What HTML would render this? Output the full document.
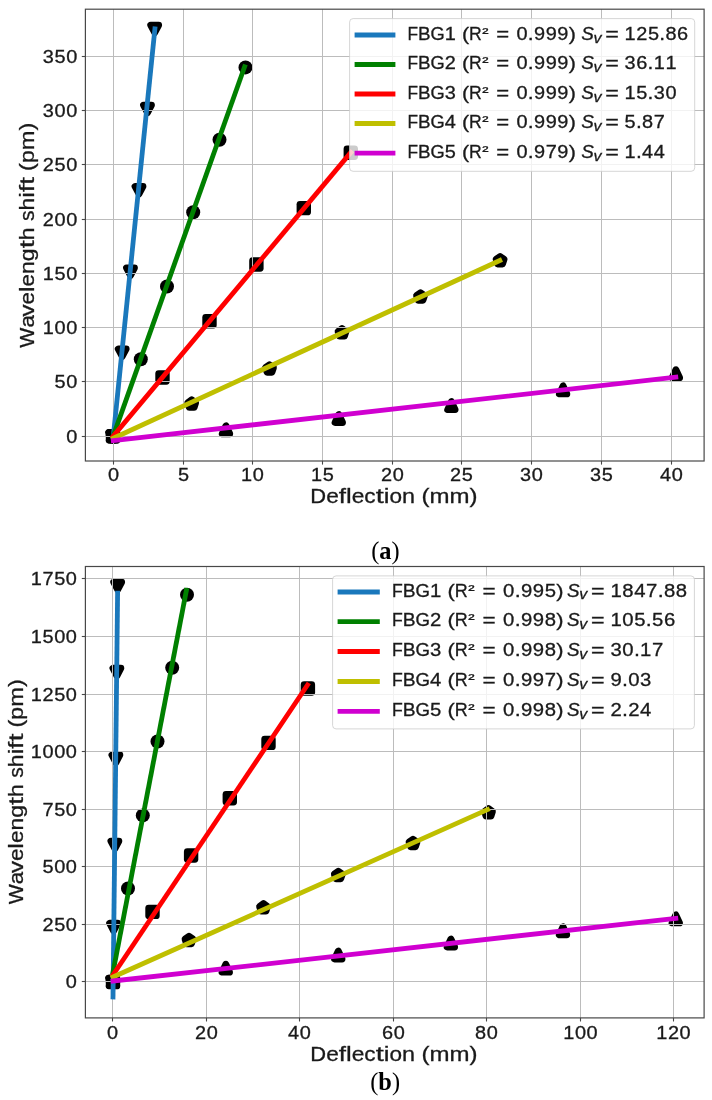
<!DOCTYPE html><html><head><meta charset="utf-8"><title>FBG deflection</title><style>html,body{margin:0;padding:0;background:#fff}svg{display:block;will-change:transform}text{stroke:#1a1a1a;stroke-width:0.3px}.ns text{stroke:none}.rj{stroke:#000;stroke-width:6.8;stroke-linejoin:round}</style></head><body>
<svg width="712" height="1100" viewBox="0 0 712 1100">
<rect width="712" height="1100" fill="#fff"/>
<g fill="#000" stroke="#000" stroke-width="0">
<polygon points="108.60,432.40 116.60,432.40 112.60,440.00" class="rj"/>
<polygon points="118.20,348.90 126.20,348.90 122.20,356.50" class="rj"/>
<polygon points="126.50,267.80 134.50,267.80 130.50,275.40" class="rj"/>
<polygon points="135.00,186.40 143.00,186.40 139.00,194.00" class="rj"/>
<polygon points="143.50,105.10 151.50,105.10 147.50,112.70" class="rj"/>
<polygon points="150.70,25.10 158.70,25.10 154.70,32.70" class="rj"/>
<circle cx="113.00" cy="436.20" r="7.00"/>
<circle cx="140.80" cy="359.20" r="7.00"/>
<circle cx="167.00" cy="286.50" r="7.00"/>
<circle cx="193.20" cy="212.30" r="7.00"/>
<circle cx="219.50" cy="139.70" r="7.00"/>
<circle cx="245.50" cy="67.40" r="7.00"/>
<rect x="105.80" y="429.00" width="14.40" height="14.40" rx="3.4"/>
<rect x="155.30" y="370.30" width="14.40" height="14.40" rx="3.4"/>
<rect x="202.30" y="314.10" width="14.40" height="14.40" rx="3.4"/>
<rect x="249.20" y="257.30" width="14.40" height="14.40" rx="3.4"/>
<rect x="296.60" y="200.90" width="14.40" height="14.40" rx="3.4"/>
<rect x="343.60" y="145.50" width="14.40" height="14.40" rx="3.4"/>
<polygon points="113.00,432.40 116.99,435.30 115.47,440.00 110.53,440.00 109.01,435.30" class="rj"/>
<polygon points="191.70,399.80 195.69,402.70 194.17,407.40 189.23,407.40 187.71,402.70" class="rj"/>
<polygon points="269.50,364.70 273.49,367.60 271.97,372.30 267.03,372.30 265.51,367.60" class="rj"/>
<polygon points="342.00,328.60 345.99,331.50 344.47,336.20 339.53,336.20 338.01,331.50" class="rj"/>
<polygon points="420.50,292.70 424.49,295.60 422.97,300.30 418.03,300.30 416.51,295.60" class="rj"/>
<polygon points="500.10,256.40 504.09,259.30 502.57,264.00 497.63,264.00 496.11,259.30" class="rj"/>
<polygon points="109.25,440.20 116.75,440.20 113.00,432.20" class="rj"/>
<polygon points="222.25,433.80 229.75,433.80 226.00,425.80" class="rj"/>
<polygon points="335.05,422.50 342.55,422.50 338.80,414.50" class="rj"/>
<polygon points="447.65,409.60 455.15,409.60 451.40,401.60" class="rj"/>
<polygon points="559.35,393.90 566.85,393.90 563.10,385.90" class="rj"/>
<polygon points="672.15,377.70 679.65,377.70 675.90,369.70" class="rj"/>
</g>
<g stroke="#bcbcbc" stroke-width="1">
<line x1="113.50" y1="9.2" x2="113.50" y2="461.0"/>
<line x1="183.50" y1="9.2" x2="183.50" y2="461.0"/>
<line x1="252.50" y1="9.2" x2="252.50" y2="461.0"/>
<line x1="322.50" y1="9.2" x2="322.50" y2="461.0"/>
<line x1="392.50" y1="9.2" x2="392.50" y2="461.0"/>
<line x1="461.50" y1="9.2" x2="461.50" y2="461.0"/>
<line x1="531.50" y1="9.2" x2="531.50" y2="461.0"/>
<line x1="601.50" y1="9.2" x2="601.50" y2="461.0"/>
<line x1="671.50" y1="9.2" x2="671.50" y2="461.0"/>
<line x1="85.4" y1="436.50" x2="704.1" y2="436.50"/>
<line x1="85.4" y1="381.50" x2="704.1" y2="381.50"/>
<line x1="85.4" y1="327.50" x2="704.1" y2="327.50"/>
<line x1="85.4" y1="273.50" x2="704.1" y2="273.50"/>
<line x1="85.4" y1="219.50" x2="704.1" y2="219.50"/>
<line x1="85.4" y1="164.50" x2="704.1" y2="164.50"/>
<line x1="85.4" y1="110.50" x2="704.1" y2="110.50"/>
<line x1="85.4" y1="56.50" x2="704.1" y2="56.50"/>
</g>
<g stroke-width="4.8" stroke-linecap="square" fill="none">
<line x1="113.30" y1="436.60" x2="154.90" y2="28.80" stroke="#1a78bc"/>
<line x1="113.30" y1="435.90" x2="244.60" y2="66.80" stroke="#008000"/>
<line x1="113.30" y1="436.10" x2="350.80" y2="152.50" stroke="#ff0000"/>
<line x1="113.30" y1="438.20" x2="499.80" y2="260.50" stroke="#bfbf00"/>
<line x1="113.30" y1="440.60" x2="675.80" y2="377.20" stroke="#d000d0"/>
</g>
<rect x="85.4" y="9.2" width="618.70" height="451.80" fill="none" stroke="#484848" stroke-width="1.2"/>
<g stroke="#484848" stroke-width="1.1">
<line x1="113.50" y1="461.0" x2="113.50" y2="464.60"/>
<line x1="183.50" y1="461.0" x2="183.50" y2="464.60"/>
<line x1="252.50" y1="461.0" x2="252.50" y2="464.60"/>
<line x1="322.50" y1="461.0" x2="322.50" y2="464.60"/>
<line x1="392.50" y1="461.0" x2="392.50" y2="464.60"/>
<line x1="461.50" y1="461.0" x2="461.50" y2="464.60"/>
<line x1="531.50" y1="461.0" x2="531.50" y2="464.60"/>
<line x1="601.50" y1="461.0" x2="601.50" y2="464.60"/>
<line x1="671.50" y1="461.0" x2="671.50" y2="464.60"/>
<line x1="85.4" y1="436.50" x2="81.80" y2="436.50"/>
<line x1="85.4" y1="381.50" x2="81.80" y2="381.50"/>
<line x1="85.4" y1="327.50" x2="81.80" y2="327.50"/>
<line x1="85.4" y1="273.50" x2="81.80" y2="273.50"/>
<line x1="85.4" y1="219.50" x2="81.80" y2="219.50"/>
<line x1="85.4" y1="164.50" x2="81.80" y2="164.50"/>
<line x1="85.4" y1="110.50" x2="81.80" y2="110.50"/>
<line x1="85.4" y1="56.50" x2="81.80" y2="56.50"/>
</g>
<g font-family='"Liberation Sans", sans-serif' fill="#1a1a1a">
<text x="107.96" y="480.60" font-size="17.60" textLength="11.09" lengthAdjust="spacingAndGlyphs" >0</text>
<text x="177.96" y="480.60" font-size="17.60" textLength="11.09" lengthAdjust="spacingAndGlyphs" >5</text>
<text x="241.12" y="480.60" font-size="17.60" textLength="11.09" lengthAdjust="spacingAndGlyphs" >1</text>
<text x="252.79" y="480.60" font-size="17.60" textLength="11.09" lengthAdjust="spacingAndGlyphs" >0</text>
<text x="311.12" y="480.60" font-size="17.60" textLength="11.09" lengthAdjust="spacingAndGlyphs" >1</text>
<text x="322.79" y="480.60" font-size="17.60" textLength="11.09" lengthAdjust="spacingAndGlyphs" >5</text>
<text x="381.12" y="480.60" font-size="17.60" textLength="11.09" lengthAdjust="spacingAndGlyphs" >2</text>
<text x="392.79" y="480.60" font-size="17.60" textLength="11.09" lengthAdjust="spacingAndGlyphs" >0</text>
<text x="450.12" y="480.60" font-size="17.60" textLength="11.09" lengthAdjust="spacingAndGlyphs" >2</text>
<text x="461.79" y="480.60" font-size="17.60" textLength="11.09" lengthAdjust="spacingAndGlyphs" >5</text>
<text x="520.12" y="480.60" font-size="17.60" textLength="11.09" lengthAdjust="spacingAndGlyphs" >3</text>
<text x="531.79" y="480.60" font-size="17.60" textLength="11.09" lengthAdjust="spacingAndGlyphs" >0</text>
<text x="590.12" y="480.60" font-size="17.60" textLength="11.09" lengthAdjust="spacingAndGlyphs" >3</text>
<text x="601.79" y="480.60" font-size="17.60" textLength="11.09" lengthAdjust="spacingAndGlyphs" >5</text>
<text x="660.12" y="480.60" font-size="17.60" textLength="11.09" lengthAdjust="spacingAndGlyphs" >4</text>
<text x="671.79" y="480.60" font-size="17.60" textLength="11.09" lengthAdjust="spacingAndGlyphs" >0</text>
<text x="66.22" y="442.50" font-size="17.60" textLength="11.09" lengthAdjust="spacingAndGlyphs" >0</text>
<text x="54.55" y="387.50" font-size="17.60" textLength="11.09" lengthAdjust="spacingAndGlyphs" >5</text>
<text x="66.22" y="387.50" font-size="17.60" textLength="11.09" lengthAdjust="spacingAndGlyphs" >0</text>
<text x="42.89" y="333.50" font-size="17.60" textLength="11.09" lengthAdjust="spacingAndGlyphs" >1</text>
<text x="54.55" y="333.50" font-size="17.60" textLength="11.09" lengthAdjust="spacingAndGlyphs" >0</text>
<text x="66.22" y="333.50" font-size="17.60" textLength="11.09" lengthAdjust="spacingAndGlyphs" >0</text>
<text x="42.89" y="279.50" font-size="17.60" textLength="11.09" lengthAdjust="spacingAndGlyphs" >1</text>
<text x="54.55" y="279.50" font-size="17.60" textLength="11.09" lengthAdjust="spacingAndGlyphs" >5</text>
<text x="66.22" y="279.50" font-size="17.60" textLength="11.09" lengthAdjust="spacingAndGlyphs" >0</text>
<text x="42.89" y="225.50" font-size="17.60" textLength="11.09" lengthAdjust="spacingAndGlyphs" >2</text>
<text x="54.55" y="225.50" font-size="17.60" textLength="11.09" lengthAdjust="spacingAndGlyphs" >0</text>
<text x="66.22" y="225.50" font-size="17.60" textLength="11.09" lengthAdjust="spacingAndGlyphs" >0</text>
<text x="42.89" y="170.50" font-size="17.60" textLength="11.09" lengthAdjust="spacingAndGlyphs" >2</text>
<text x="54.55" y="170.50" font-size="17.60" textLength="11.09" lengthAdjust="spacingAndGlyphs" >5</text>
<text x="66.22" y="170.50" font-size="17.60" textLength="11.09" lengthAdjust="spacingAndGlyphs" >0</text>
<text x="42.89" y="116.50" font-size="17.60" textLength="11.09" lengthAdjust="spacingAndGlyphs" >3</text>
<text x="54.55" y="116.50" font-size="17.60" textLength="11.09" lengthAdjust="spacingAndGlyphs" >0</text>
<text x="66.22" y="116.50" font-size="17.60" textLength="11.09" lengthAdjust="spacingAndGlyphs" >0</text>
<text x="42.89" y="62.50" font-size="17.60" textLength="11.09" lengthAdjust="spacingAndGlyphs" >3</text>
<text x="54.55" y="62.50" font-size="17.60" textLength="11.09" lengthAdjust="spacingAndGlyphs" >5</text>
<text x="66.22" y="62.50" font-size="17.60" textLength="11.09" lengthAdjust="spacingAndGlyphs" >0</text>
<text x="310.34" y="503.00" font-size="20.80" textLength="15.82" lengthAdjust="spacingAndGlyphs" >D</text>
<text x="326.16" y="503.00" font-size="20.80" textLength="12.64" lengthAdjust="spacingAndGlyphs" >e</text>
<text x="338.81" y="503.00" font-size="20.80" textLength="7.23" lengthAdjust="spacingAndGlyphs" >f</text>
<text x="346.04" y="503.00" font-size="20.80" textLength="5.71" lengthAdjust="spacingAndGlyphs" >l</text>
<text x="351.75" y="503.00" font-size="20.80" textLength="12.64" lengthAdjust="spacingAndGlyphs" >e</text>
<text x="364.39" y="503.00" font-size="20.80" textLength="11.30" lengthAdjust="spacingAndGlyphs" >c</text>
<text x="375.69" y="503.00" font-size="20.80" textLength="8.06" lengthAdjust="spacingAndGlyphs" >t</text>
<text x="383.75" y="503.00" font-size="20.80" textLength="5.71" lengthAdjust="spacingAndGlyphs" >i</text>
<text x="389.46" y="503.00" font-size="20.80" textLength="12.57" lengthAdjust="spacingAndGlyphs" >o</text>
<text x="402.03" y="503.00" font-size="20.80" textLength="13.02" lengthAdjust="spacingAndGlyphs" >n</text>
<text x="421.59" y="503.00" font-size="20.80" textLength="8.02" lengthAdjust="spacingAndGlyphs" >(</text>
<text x="429.61" y="503.00" font-size="20.80" textLength="20.02" lengthAdjust="spacingAndGlyphs" >m</text>
<text x="449.62" y="503.00" font-size="20.80" textLength="20.02" lengthAdjust="spacingAndGlyphs" >m</text>
<text x="469.64" y="503.00" font-size="20.80" textLength="8.02" lengthAdjust="spacingAndGlyphs" >)</text>
<g transform="translate(34.20,235.10) rotate(-90)">
<text x="-112.55" y="0.00" font-size="20.80" textLength="20.02" lengthAdjust="spacingAndGlyphs" >W</text>
<text x="-92.53" y="0.00" font-size="20.80" textLength="12.41" lengthAdjust="spacingAndGlyphs" >a</text>
<text x="-81.42" y="0.00" font-size="20.80" textLength="11.98" lengthAdjust="spacingAndGlyphs" >v</text>
<text x="-69.43" y="0.00" font-size="20.80" textLength="12.46" lengthAdjust="spacingAndGlyphs" >e</text>
<text x="-56.97" y="0.00" font-size="20.80" textLength="5.63" lengthAdjust="spacingAndGlyphs" >l</text>
<text x="-51.35" y="0.00" font-size="20.80" textLength="12.46" lengthAdjust="spacingAndGlyphs" >e</text>
<text x="-38.89" y="0.00" font-size="20.80" textLength="12.83" lengthAdjust="spacingAndGlyphs" >n</text>
<text x="-26.05" y="0.00" font-size="20.80" textLength="12.85" lengthAdjust="spacingAndGlyphs" >g</text>
<text x="-13.20" y="0.00" font-size="20.80" textLength="7.94" lengthAdjust="spacingAndGlyphs" >t</text>
<text x="-5.26" y="0.00" font-size="20.80" textLength="12.83" lengthAdjust="spacingAndGlyphs" >h</text>
<text x="14.01" y="0.00" font-size="20.80" textLength="10.55" lengthAdjust="spacingAndGlyphs" >s</text>
<text x="24.56" y="0.00" font-size="20.80" textLength="12.83" lengthAdjust="spacingAndGlyphs" >h</text>
<text x="37.40" y="0.00" font-size="20.80" textLength="5.63" lengthAdjust="spacingAndGlyphs" >i</text>
<text x="43.02" y="0.00" font-size="20.80" textLength="7.13" lengthAdjust="spacingAndGlyphs" >f</text>
<text x="50.15" y="0.00" font-size="20.80" textLength="7.94" lengthAdjust="spacingAndGlyphs" >t</text>
<text x="64.17" y="0.00" font-size="20.80" textLength="7.90" lengthAdjust="spacingAndGlyphs" >(</text>
<text x="72.07" y="0.00" font-size="20.80" textLength="12.85" lengthAdjust="spacingAndGlyphs" >p</text>
<text x="84.93" y="0.00" font-size="20.80" textLength="19.73" lengthAdjust="spacingAndGlyphs" >m</text>
<text x="104.65" y="0.00" font-size="20.80" textLength="7.90" lengthAdjust="spacingAndGlyphs" >)</text>
</g>
</g>
<rect x="349.6" y="18.6" width="345.10" height="152.70" rx="3.5" fill="#fff" fill-opacity="0.8" stroke="#cccccc" stroke-opacity="0.8" stroke-width="1"/>
<line x1="354.6" y1="35.00" x2="395.4" y2="35.00" stroke="#1a78bc" stroke-width="4.8"/>
<g font-family='"Liberation Sans", sans-serif' fill="#1a1a1a">
<text x="407.40" y="39.60" font-size="17.60" textLength="10.55" lengthAdjust="spacingAndGlyphs" >F</text>
<text x="417.95" y="39.60" font-size="17.60" textLength="12.58" lengthAdjust="spacingAndGlyphs" >B</text>
<text x="430.53" y="39.60" font-size="17.60" textLength="14.21" lengthAdjust="spacingAndGlyphs" >G</text>
<text x="444.71" y="39.60" font-size="17.60" textLength="11.09" lengthAdjust="spacingAndGlyphs" >1</text>
<text x="461.92" y="39.60" font-size="17.60" textLength="7.16" lengthAdjust="spacingAndGlyphs" >(</text>
<text x="469.07" y="39.60" font-size="17.60" textLength="12.74" lengthAdjust="spacingAndGlyphs" >R</text>
<text x="482.37" y="37.70" font-size="14.78" textLength="6.25" lengthAdjust="spacingAndGlyphs" >²</text>
<text x="496.23" y="39.60" font-size="17.60" textLength="12.91" lengthAdjust="spacingAndGlyphs" >=</text>
<text x="516.49" y="39.60" font-size="17.60" textLength="11.09" lengthAdjust="spacingAndGlyphs" >0</text>
<text x="527.86" y="39.60" font-size="17.60" textLength="5.83" lengthAdjust="spacingAndGlyphs" >.</text>
<text x="533.99" y="39.60" font-size="17.60" textLength="11.09" lengthAdjust="spacingAndGlyphs" >9</text>
<text x="545.65" y="39.60" font-size="17.60" textLength="11.09" lengthAdjust="spacingAndGlyphs" >9</text>
<text x="557.32" y="39.60" font-size="17.60" textLength="11.09" lengthAdjust="spacingAndGlyphs" >9</text>
<text x="568.70" y="39.60" font-size="17.60" textLength="7.16" lengthAdjust="spacingAndGlyphs" >)</text>
<text x="581.20" y="39.60" font-size="17.6" textLength="12.60" lengthAdjust="spacingAndGlyphs" font-style="italic">S</text>
<text x="593.40" y="42.50" font-size="14.2" textLength="8.00" lengthAdjust="spacingAndGlyphs" font-style="italic">v</text>
<text x="605.30" y="39.60" font-size="17.6" textLength="13.60" lengthAdjust="spacingAndGlyphs" >=</text>
<text x="624.59" y="39.60" font-size="17.60" textLength="11.09" lengthAdjust="spacingAndGlyphs" >1</text>
<text x="636.26" y="39.60" font-size="17.60" textLength="11.09" lengthAdjust="spacingAndGlyphs" >2</text>
<text x="647.93" y="39.60" font-size="17.60" textLength="11.09" lengthAdjust="spacingAndGlyphs" >5</text>
<text x="659.31" y="39.60" font-size="17.60" textLength="5.83" lengthAdjust="spacingAndGlyphs" >.</text>
<text x="665.43" y="39.60" font-size="17.60" textLength="11.09" lengthAdjust="spacingAndGlyphs" >8</text>
<text x="677.10" y="39.60" font-size="17.60" textLength="11.09" lengthAdjust="spacingAndGlyphs" >6</text>
</g>
<line x1="354.6" y1="64.50" x2="395.4" y2="64.50" stroke="#008000" stroke-width="4.8"/>
<g font-family='"Liberation Sans", sans-serif' fill="#1a1a1a">
<text x="407.40" y="69.10" font-size="17.60" textLength="10.55" lengthAdjust="spacingAndGlyphs" >F</text>
<text x="417.95" y="69.10" font-size="17.60" textLength="12.58" lengthAdjust="spacingAndGlyphs" >B</text>
<text x="430.53" y="69.10" font-size="17.60" textLength="14.21" lengthAdjust="spacingAndGlyphs" >G</text>
<text x="444.71" y="69.10" font-size="17.60" textLength="11.09" lengthAdjust="spacingAndGlyphs" >2</text>
<text x="461.92" y="69.10" font-size="17.60" textLength="7.16" lengthAdjust="spacingAndGlyphs" >(</text>
<text x="469.07" y="69.10" font-size="17.60" textLength="12.74" lengthAdjust="spacingAndGlyphs" >R</text>
<text x="482.37" y="67.20" font-size="14.78" textLength="6.25" lengthAdjust="spacingAndGlyphs" >²</text>
<text x="496.23" y="69.10" font-size="17.60" textLength="12.91" lengthAdjust="spacingAndGlyphs" >=</text>
<text x="516.49" y="69.10" font-size="17.60" textLength="11.09" lengthAdjust="spacingAndGlyphs" >0</text>
<text x="527.86" y="69.10" font-size="17.60" textLength="5.83" lengthAdjust="spacingAndGlyphs" >.</text>
<text x="533.99" y="69.10" font-size="17.60" textLength="11.09" lengthAdjust="spacingAndGlyphs" >9</text>
<text x="545.65" y="69.10" font-size="17.60" textLength="11.09" lengthAdjust="spacingAndGlyphs" >9</text>
<text x="557.32" y="69.10" font-size="17.60" textLength="11.09" lengthAdjust="spacingAndGlyphs" >9</text>
<text x="568.70" y="69.10" font-size="17.60" textLength="7.16" lengthAdjust="spacingAndGlyphs" >)</text>
<text x="581.20" y="69.10" font-size="17.6" textLength="12.60" lengthAdjust="spacingAndGlyphs" font-style="italic">S</text>
<text x="593.40" y="72.00" font-size="14.2" textLength="8.00" lengthAdjust="spacingAndGlyphs" font-style="italic">v</text>
<text x="605.30" y="69.10" font-size="17.6" textLength="13.60" lengthAdjust="spacingAndGlyphs" >=</text>
<text x="624.59" y="69.10" font-size="17.60" textLength="11.09" lengthAdjust="spacingAndGlyphs" >3</text>
<text x="636.26" y="69.10" font-size="17.60" textLength="11.09" lengthAdjust="spacingAndGlyphs" >6</text>
<text x="647.64" y="69.10" font-size="17.60" textLength="5.83" lengthAdjust="spacingAndGlyphs" >.</text>
<text x="653.76" y="69.10" font-size="17.60" textLength="11.09" lengthAdjust="spacingAndGlyphs" >1</text>
<text x="665.43" y="69.10" font-size="17.60" textLength="11.09" lengthAdjust="spacingAndGlyphs" >1</text>
</g>
<line x1="354.6" y1="94.00" x2="395.4" y2="94.00" stroke="#ff0000" stroke-width="4.8"/>
<g font-family='"Liberation Sans", sans-serif' fill="#1a1a1a">
<text x="407.40" y="98.60" font-size="17.60" textLength="10.55" lengthAdjust="spacingAndGlyphs" >F</text>
<text x="417.95" y="98.60" font-size="17.60" textLength="12.58" lengthAdjust="spacingAndGlyphs" >B</text>
<text x="430.53" y="98.60" font-size="17.60" textLength="14.21" lengthAdjust="spacingAndGlyphs" >G</text>
<text x="444.71" y="98.60" font-size="17.60" textLength="11.09" lengthAdjust="spacingAndGlyphs" >3</text>
<text x="461.92" y="98.60" font-size="17.60" textLength="7.16" lengthAdjust="spacingAndGlyphs" >(</text>
<text x="469.07" y="98.60" font-size="17.60" textLength="12.74" lengthAdjust="spacingAndGlyphs" >R</text>
<text x="482.37" y="96.70" font-size="14.78" textLength="6.25" lengthAdjust="spacingAndGlyphs" >²</text>
<text x="496.23" y="98.60" font-size="17.60" textLength="12.91" lengthAdjust="spacingAndGlyphs" >=</text>
<text x="516.49" y="98.60" font-size="17.60" textLength="11.09" lengthAdjust="spacingAndGlyphs" >0</text>
<text x="527.86" y="98.60" font-size="17.60" textLength="5.83" lengthAdjust="spacingAndGlyphs" >.</text>
<text x="533.99" y="98.60" font-size="17.60" textLength="11.09" lengthAdjust="spacingAndGlyphs" >9</text>
<text x="545.65" y="98.60" font-size="17.60" textLength="11.09" lengthAdjust="spacingAndGlyphs" >9</text>
<text x="557.32" y="98.60" font-size="17.60" textLength="11.09" lengthAdjust="spacingAndGlyphs" >9</text>
<text x="568.70" y="98.60" font-size="17.60" textLength="7.16" lengthAdjust="spacingAndGlyphs" >)</text>
<text x="581.20" y="98.60" font-size="17.6" textLength="12.60" lengthAdjust="spacingAndGlyphs" font-style="italic">S</text>
<text x="593.40" y="101.50" font-size="14.2" textLength="8.00" lengthAdjust="spacingAndGlyphs" font-style="italic">v</text>
<text x="605.30" y="98.60" font-size="17.6" textLength="13.60" lengthAdjust="spacingAndGlyphs" >=</text>
<text x="624.59" y="98.60" font-size="17.60" textLength="11.09" lengthAdjust="spacingAndGlyphs" >1</text>
<text x="636.26" y="98.60" font-size="17.60" textLength="11.09" lengthAdjust="spacingAndGlyphs" >5</text>
<text x="647.64" y="98.60" font-size="17.60" textLength="5.83" lengthAdjust="spacingAndGlyphs" >.</text>
<text x="653.76" y="98.60" font-size="17.60" textLength="11.09" lengthAdjust="spacingAndGlyphs" >3</text>
<text x="665.43" y="98.60" font-size="17.60" textLength="11.09" lengthAdjust="spacingAndGlyphs" >0</text>
</g>
<line x1="354.6" y1="123.50" x2="395.4" y2="123.50" stroke="#bfbf00" stroke-width="4.8"/>
<g font-family='"Liberation Sans", sans-serif' fill="#1a1a1a">
<text x="407.40" y="128.10" font-size="17.60" textLength="10.55" lengthAdjust="spacingAndGlyphs" >F</text>
<text x="417.95" y="128.10" font-size="17.60" textLength="12.58" lengthAdjust="spacingAndGlyphs" >B</text>
<text x="430.53" y="128.10" font-size="17.60" textLength="14.21" lengthAdjust="spacingAndGlyphs" >G</text>
<text x="444.71" y="128.10" font-size="17.60" textLength="11.09" lengthAdjust="spacingAndGlyphs" >4</text>
<text x="461.92" y="128.10" font-size="17.60" textLength="7.16" lengthAdjust="spacingAndGlyphs" >(</text>
<text x="469.07" y="128.10" font-size="17.60" textLength="12.74" lengthAdjust="spacingAndGlyphs" >R</text>
<text x="482.37" y="126.20" font-size="14.78" textLength="6.25" lengthAdjust="spacingAndGlyphs" >²</text>
<text x="496.23" y="128.10" font-size="17.60" textLength="12.91" lengthAdjust="spacingAndGlyphs" >=</text>
<text x="516.49" y="128.10" font-size="17.60" textLength="11.09" lengthAdjust="spacingAndGlyphs" >0</text>
<text x="527.86" y="128.10" font-size="17.60" textLength="5.83" lengthAdjust="spacingAndGlyphs" >.</text>
<text x="533.99" y="128.10" font-size="17.60" textLength="11.09" lengthAdjust="spacingAndGlyphs" >9</text>
<text x="545.65" y="128.10" font-size="17.60" textLength="11.09" lengthAdjust="spacingAndGlyphs" >9</text>
<text x="557.32" y="128.10" font-size="17.60" textLength="11.09" lengthAdjust="spacingAndGlyphs" >9</text>
<text x="568.70" y="128.10" font-size="17.60" textLength="7.16" lengthAdjust="spacingAndGlyphs" >)</text>
<text x="581.20" y="128.10" font-size="17.6" textLength="12.60" lengthAdjust="spacingAndGlyphs" font-style="italic">S</text>
<text x="593.40" y="131.00" font-size="14.2" textLength="8.00" lengthAdjust="spacingAndGlyphs" font-style="italic">v</text>
<text x="605.30" y="128.10" font-size="17.6" textLength="13.60" lengthAdjust="spacingAndGlyphs" >=</text>
<text x="624.59" y="128.10" font-size="17.60" textLength="11.09" lengthAdjust="spacingAndGlyphs" >5</text>
<text x="635.97" y="128.10" font-size="17.60" textLength="5.83" lengthAdjust="spacingAndGlyphs" >.</text>
<text x="642.09" y="128.10" font-size="17.60" textLength="11.09" lengthAdjust="spacingAndGlyphs" >8</text>
<text x="653.76" y="128.10" font-size="17.60" textLength="11.09" lengthAdjust="spacingAndGlyphs" >7</text>
</g>
<line x1="354.6" y1="153.10" x2="395.4" y2="153.10" stroke="#d000d0" stroke-width="4.8"/>
<g font-family='"Liberation Sans", sans-serif' fill="#1a1a1a">
<text x="407.40" y="157.70" font-size="17.60" textLength="10.55" lengthAdjust="spacingAndGlyphs" >F</text>
<text x="417.95" y="157.70" font-size="17.60" textLength="12.58" lengthAdjust="spacingAndGlyphs" >B</text>
<text x="430.53" y="157.70" font-size="17.60" textLength="14.21" lengthAdjust="spacingAndGlyphs" >G</text>
<text x="444.71" y="157.70" font-size="17.60" textLength="11.09" lengthAdjust="spacingAndGlyphs" >5</text>
<text x="461.92" y="157.70" font-size="17.60" textLength="7.16" lengthAdjust="spacingAndGlyphs" >(</text>
<text x="469.07" y="157.70" font-size="17.60" textLength="12.74" lengthAdjust="spacingAndGlyphs" >R</text>
<text x="482.37" y="155.80" font-size="14.78" textLength="6.25" lengthAdjust="spacingAndGlyphs" >²</text>
<text x="496.23" y="157.70" font-size="17.60" textLength="12.91" lengthAdjust="spacingAndGlyphs" >=</text>
<text x="516.49" y="157.70" font-size="17.60" textLength="11.09" lengthAdjust="spacingAndGlyphs" >0</text>
<text x="527.86" y="157.70" font-size="17.60" textLength="5.83" lengthAdjust="spacingAndGlyphs" >.</text>
<text x="533.99" y="157.70" font-size="17.60" textLength="11.09" lengthAdjust="spacingAndGlyphs" >9</text>
<text x="545.65" y="157.70" font-size="17.60" textLength="11.09" lengthAdjust="spacingAndGlyphs" >7</text>
<text x="557.32" y="157.70" font-size="17.60" textLength="11.09" lengthAdjust="spacingAndGlyphs" >9</text>
<text x="568.70" y="157.70" font-size="17.60" textLength="7.16" lengthAdjust="spacingAndGlyphs" >)</text>
<text x="581.20" y="157.70" font-size="17.6" textLength="12.60" lengthAdjust="spacingAndGlyphs" font-style="italic">S</text>
<text x="593.40" y="160.60" font-size="14.2" textLength="8.00" lengthAdjust="spacingAndGlyphs" font-style="italic">v</text>
<text x="605.30" y="157.70" font-size="17.6" textLength="13.60" lengthAdjust="spacingAndGlyphs" >=</text>
<text x="624.59" y="157.70" font-size="17.60" textLength="11.09" lengthAdjust="spacingAndGlyphs" >1</text>
<text x="635.97" y="157.70" font-size="17.60" textLength="5.83" lengthAdjust="spacingAndGlyphs" >.</text>
<text x="642.09" y="157.70" font-size="17.60" textLength="11.09" lengthAdjust="spacingAndGlyphs" >4</text>
<text x="653.76" y="157.70" font-size="17.60" textLength="11.09" lengthAdjust="spacingAndGlyphs" >4</text>
</g>
<g fill="#000" stroke="#000" stroke-width="0">
<polygon points="108.60,978.10 116.60,978.10 112.60,985.70" class="rj"/>
<polygon points="109.60,923.20 117.60,923.20 113.60,930.80" class="rj"/>
<polygon points="110.90,841.10 118.90,841.10 114.90,848.70" class="rj"/>
<polygon points="111.90,755.00 119.90,755.00 115.90,762.60" class="rj"/>
<polygon points="112.90,668.20 120.90,668.20 116.90,675.80" class="rj"/>
<polygon points="113.70,582.10 121.70,582.10 117.70,589.70" class="rj"/>
<circle cx="113.00" cy="981.90" r="7.00"/>
<circle cx="128.00" cy="888.50" r="7.00"/>
<circle cx="142.80" cy="815.40" r="7.00"/>
<circle cx="157.50" cy="741.50" r="7.00"/>
<circle cx="172.20" cy="667.80" r="7.00"/>
<circle cx="187.00" cy="594.70" r="7.00"/>
<rect x="105.80" y="974.70" width="14.40" height="14.40" rx="3.4"/>
<rect x="145.30" y="904.70" width="14.40" height="14.40" rx="3.4"/>
<rect x="183.90" y="848.30" width="14.40" height="14.40" rx="3.4"/>
<rect x="222.60" y="791.00" width="14.40" height="14.40" rx="3.4"/>
<rect x="261.30" y="735.70" width="14.40" height="14.40" rx="3.4"/>
<rect x="300.70" y="681.30" width="14.40" height="14.40" rx="3.4"/>
<polygon points="113.00,978.10 116.99,981.00 115.47,985.70 110.53,985.70 109.01,981.00" class="rj"/>
<polygon points="189.00,936.20 192.99,939.10 191.47,943.80 186.53,943.80 185.01,939.10" class="rj"/>
<polygon points="263.50,903.60 267.49,906.50 265.97,911.20 261.03,911.20 259.51,906.50" class="rj"/>
<polygon points="338.30,871.20 342.29,874.10 340.77,878.80 335.83,878.80 334.31,874.10" class="rj"/>
<polygon points="413.00,839.20 416.99,842.10 415.47,846.80 410.53,846.80 409.01,842.10" class="rj"/>
<polygon points="488.50,808.50 492.49,811.40 490.97,816.10 486.03,816.10 484.51,811.40" class="rj"/>
<polygon points="109.25,985.90 116.75,985.90 113.00,977.90" class="rj"/>
<polygon points="222.05,972.20 229.55,972.20 225.80,964.20" class="rj"/>
<polygon points="334.55,959.00 342.05,959.00 338.30,951.00" class="rj"/>
<polygon points="447.15,947.00 454.65,947.00 450.90,939.00" class="rj"/>
<polygon points="559.25,934.80 566.75,934.80 563.00,926.80" class="rj"/>
<polygon points="672.05,922.90 679.55,922.90 675.80,914.90" class="rj"/>
</g>
<g stroke="#bcbcbc" stroke-width="1">
<line x1="112.50" y1="566.5" x2="112.50" y2="1017.9"/>
<line x1="206.50" y1="566.5" x2="206.50" y2="1017.9"/>
<line x1="299.50" y1="566.5" x2="299.50" y2="1017.9"/>
<line x1="393.50" y1="566.5" x2="393.50" y2="1017.9"/>
<line x1="486.50" y1="566.5" x2="486.50" y2="1017.9"/>
<line x1="580.50" y1="566.5" x2="580.50" y2="1017.9"/>
<line x1="673.50" y1="566.5" x2="673.50" y2="1017.9"/>
<line x1="85.4" y1="981.50" x2="704.1" y2="981.50"/>
<line x1="85.4" y1="924.50" x2="704.1" y2="924.50"/>
<line x1="85.4" y1="866.50" x2="704.1" y2="866.50"/>
<line x1="85.4" y1="809.50" x2="704.1" y2="809.50"/>
<line x1="85.4" y1="751.50" x2="704.1" y2="751.50"/>
<line x1="85.4" y1="694.50" x2="704.1" y2="694.50"/>
<line x1="85.4" y1="636.50" x2="704.1" y2="636.50"/>
<line x1="85.4" y1="578.50" x2="704.1" y2="578.50"/>
</g>
<g stroke-width="4.8" stroke-linecap="square" fill="none">
<line x1="113.00" y1="997.00" x2="117.60" y2="593.10" stroke="#1a78bc"/>
<line x1="113.00" y1="972.20" x2="186.40" y2="590.40" stroke="#008000"/>
<line x1="113.00" y1="975.00" x2="307.50" y2="685.00" stroke="#ff0000"/>
<line x1="113.00" y1="977.00" x2="487.50" y2="809.60" stroke="#bfbf00"/>
<line x1="113.00" y1="981.00" x2="675.80" y2="918.30" stroke="#d000d0"/>
</g>
<rect x="85.4" y="566.5" width="618.70" height="451.40" fill="none" stroke="#484848" stroke-width="1.2"/>
<g stroke="#484848" stroke-width="1.1">
<line x1="112.50" y1="1017.9" x2="112.50" y2="1021.50"/>
<line x1="206.50" y1="1017.9" x2="206.50" y2="1021.50"/>
<line x1="299.50" y1="1017.9" x2="299.50" y2="1021.50"/>
<line x1="393.50" y1="1017.9" x2="393.50" y2="1021.50"/>
<line x1="486.50" y1="1017.9" x2="486.50" y2="1021.50"/>
<line x1="580.50" y1="1017.9" x2="580.50" y2="1021.50"/>
<line x1="673.50" y1="1017.9" x2="673.50" y2="1021.50"/>
<line x1="85.4" y1="981.50" x2="81.80" y2="981.50"/>
<line x1="85.4" y1="924.50" x2="81.80" y2="924.50"/>
<line x1="85.4" y1="866.50" x2="81.80" y2="866.50"/>
<line x1="85.4" y1="809.50" x2="81.80" y2="809.50"/>
<line x1="85.4" y1="751.50" x2="81.80" y2="751.50"/>
<line x1="85.4" y1="694.50" x2="81.80" y2="694.50"/>
<line x1="85.4" y1="636.50" x2="81.80" y2="636.50"/>
<line x1="85.4" y1="578.50" x2="81.80" y2="578.50"/>
</g>
<g font-family='"Liberation Sans", sans-serif' fill="#1a1a1a">
<text x="106.96" y="1038.50" font-size="17.60" textLength="11.09" lengthAdjust="spacingAndGlyphs" >0</text>
<text x="195.12" y="1038.50" font-size="17.60" textLength="11.09" lengthAdjust="spacingAndGlyphs" >2</text>
<text x="206.79" y="1038.50" font-size="17.60" textLength="11.09" lengthAdjust="spacingAndGlyphs" >0</text>
<text x="288.12" y="1038.50" font-size="17.60" textLength="11.09" lengthAdjust="spacingAndGlyphs" >4</text>
<text x="299.79" y="1038.50" font-size="17.60" textLength="11.09" lengthAdjust="spacingAndGlyphs" >0</text>
<text x="382.12" y="1038.50" font-size="17.60" textLength="11.09" lengthAdjust="spacingAndGlyphs" >6</text>
<text x="393.79" y="1038.50" font-size="17.60" textLength="11.09" lengthAdjust="spacingAndGlyphs" >0</text>
<text x="475.12" y="1038.50" font-size="17.60" textLength="11.09" lengthAdjust="spacingAndGlyphs" >8</text>
<text x="486.79" y="1038.50" font-size="17.60" textLength="11.09" lengthAdjust="spacingAndGlyphs" >0</text>
<text x="563.29" y="1038.50" font-size="17.60" textLength="11.09" lengthAdjust="spacingAndGlyphs" >1</text>
<text x="574.96" y="1038.50" font-size="17.60" textLength="11.09" lengthAdjust="spacingAndGlyphs" >0</text>
<text x="586.63" y="1038.50" font-size="17.60" textLength="11.09" lengthAdjust="spacingAndGlyphs" >0</text>
<text x="656.29" y="1038.50" font-size="17.60" textLength="11.09" lengthAdjust="spacingAndGlyphs" >1</text>
<text x="667.96" y="1038.50" font-size="17.60" textLength="11.09" lengthAdjust="spacingAndGlyphs" >2</text>
<text x="679.63" y="1038.50" font-size="17.60" textLength="11.09" lengthAdjust="spacingAndGlyphs" >0</text>
<text x="65.82" y="987.50" font-size="17.60" textLength="11.09" lengthAdjust="spacingAndGlyphs" >0</text>
<text x="42.49" y="930.50" font-size="17.60" textLength="11.09" lengthAdjust="spacingAndGlyphs" >2</text>
<text x="54.15" y="930.50" font-size="17.60" textLength="11.09" lengthAdjust="spacingAndGlyphs" >5</text>
<text x="65.82" y="930.50" font-size="17.60" textLength="11.09" lengthAdjust="spacingAndGlyphs" >0</text>
<text x="42.49" y="872.50" font-size="17.60" textLength="11.09" lengthAdjust="spacingAndGlyphs" >5</text>
<text x="54.15" y="872.50" font-size="17.60" textLength="11.09" lengthAdjust="spacingAndGlyphs" >0</text>
<text x="65.82" y="872.50" font-size="17.60" textLength="11.09" lengthAdjust="spacingAndGlyphs" >0</text>
<text x="42.49" y="815.50" font-size="17.60" textLength="11.09" lengthAdjust="spacingAndGlyphs" >7</text>
<text x="54.15" y="815.50" font-size="17.60" textLength="11.09" lengthAdjust="spacingAndGlyphs" >5</text>
<text x="65.82" y="815.50" font-size="17.60" textLength="11.09" lengthAdjust="spacingAndGlyphs" >0</text>
<text x="30.82" y="757.50" font-size="17.60" textLength="11.09" lengthAdjust="spacingAndGlyphs" >1</text>
<text x="42.49" y="757.50" font-size="17.60" textLength="11.09" lengthAdjust="spacingAndGlyphs" >0</text>
<text x="54.15" y="757.50" font-size="17.60" textLength="11.09" lengthAdjust="spacingAndGlyphs" >0</text>
<text x="65.82" y="757.50" font-size="17.60" textLength="11.09" lengthAdjust="spacingAndGlyphs" >0</text>
<text x="30.82" y="700.50" font-size="17.60" textLength="11.09" lengthAdjust="spacingAndGlyphs" >1</text>
<text x="42.49" y="700.50" font-size="17.60" textLength="11.09" lengthAdjust="spacingAndGlyphs" >2</text>
<text x="54.15" y="700.50" font-size="17.60" textLength="11.09" lengthAdjust="spacingAndGlyphs" >5</text>
<text x="65.82" y="700.50" font-size="17.60" textLength="11.09" lengthAdjust="spacingAndGlyphs" >0</text>
<text x="30.82" y="642.50" font-size="17.60" textLength="11.09" lengthAdjust="spacingAndGlyphs" >1</text>
<text x="42.49" y="642.50" font-size="17.60" textLength="11.09" lengthAdjust="spacingAndGlyphs" >5</text>
<text x="54.15" y="642.50" font-size="17.60" textLength="11.09" lengthAdjust="spacingAndGlyphs" >0</text>
<text x="65.82" y="642.50" font-size="17.60" textLength="11.09" lengthAdjust="spacingAndGlyphs" >0</text>
<text x="30.82" y="584.50" font-size="17.60" textLength="11.09" lengthAdjust="spacingAndGlyphs" >1</text>
<text x="42.49" y="584.50" font-size="17.60" textLength="11.09" lengthAdjust="spacingAndGlyphs" >7</text>
<text x="54.15" y="584.50" font-size="17.60" textLength="11.09" lengthAdjust="spacingAndGlyphs" >5</text>
<text x="65.82" y="584.50" font-size="17.60" textLength="11.09" lengthAdjust="spacingAndGlyphs" >0</text>
<text x="310.34" y="1060.50" font-size="20.80" textLength="15.82" lengthAdjust="spacingAndGlyphs" >D</text>
<text x="326.16" y="1060.50" font-size="20.80" textLength="12.64" lengthAdjust="spacingAndGlyphs" >e</text>
<text x="338.81" y="1060.50" font-size="20.80" textLength="7.23" lengthAdjust="spacingAndGlyphs" >f</text>
<text x="346.04" y="1060.50" font-size="20.80" textLength="5.71" lengthAdjust="spacingAndGlyphs" >l</text>
<text x="351.75" y="1060.50" font-size="20.80" textLength="12.64" lengthAdjust="spacingAndGlyphs" >e</text>
<text x="364.39" y="1060.50" font-size="20.80" textLength="11.30" lengthAdjust="spacingAndGlyphs" >c</text>
<text x="375.69" y="1060.50" font-size="20.80" textLength="8.06" lengthAdjust="spacingAndGlyphs" >t</text>
<text x="383.75" y="1060.50" font-size="20.80" textLength="5.71" lengthAdjust="spacingAndGlyphs" >i</text>
<text x="389.46" y="1060.50" font-size="20.80" textLength="12.57" lengthAdjust="spacingAndGlyphs" >o</text>
<text x="402.03" y="1060.50" font-size="20.80" textLength="13.02" lengthAdjust="spacingAndGlyphs" >n</text>
<text x="421.59" y="1060.50" font-size="20.80" textLength="8.02" lengthAdjust="spacingAndGlyphs" >(</text>
<text x="429.61" y="1060.50" font-size="20.80" textLength="20.02" lengthAdjust="spacingAndGlyphs" >m</text>
<text x="449.62" y="1060.50" font-size="20.80" textLength="20.02" lengthAdjust="spacingAndGlyphs" >m</text>
<text x="469.64" y="1060.50" font-size="20.80" textLength="8.02" lengthAdjust="spacingAndGlyphs" >)</text>
<g transform="translate(22.60,791.70) rotate(-90)">
<text x="-112.55" y="0.00" font-size="20.80" textLength="20.02" lengthAdjust="spacingAndGlyphs" >W</text>
<text x="-92.53" y="0.00" font-size="20.80" textLength="12.41" lengthAdjust="spacingAndGlyphs" >a</text>
<text x="-81.42" y="0.00" font-size="20.80" textLength="11.98" lengthAdjust="spacingAndGlyphs" >v</text>
<text x="-69.43" y="0.00" font-size="20.80" textLength="12.46" lengthAdjust="spacingAndGlyphs" >e</text>
<text x="-56.97" y="0.00" font-size="20.80" textLength="5.63" lengthAdjust="spacingAndGlyphs" >l</text>
<text x="-51.35" y="0.00" font-size="20.80" textLength="12.46" lengthAdjust="spacingAndGlyphs" >e</text>
<text x="-38.89" y="0.00" font-size="20.80" textLength="12.83" lengthAdjust="spacingAndGlyphs" >n</text>
<text x="-26.05" y="0.00" font-size="20.80" textLength="12.85" lengthAdjust="spacingAndGlyphs" >g</text>
<text x="-13.20" y="0.00" font-size="20.80" textLength="7.94" lengthAdjust="spacingAndGlyphs" >t</text>
<text x="-5.26" y="0.00" font-size="20.80" textLength="12.83" lengthAdjust="spacingAndGlyphs" >h</text>
<text x="14.01" y="0.00" font-size="20.80" textLength="10.55" lengthAdjust="spacingAndGlyphs" >s</text>
<text x="24.56" y="0.00" font-size="20.80" textLength="12.83" lengthAdjust="spacingAndGlyphs" >h</text>
<text x="37.40" y="0.00" font-size="20.80" textLength="5.63" lengthAdjust="spacingAndGlyphs" >i</text>
<text x="43.02" y="0.00" font-size="20.80" textLength="7.13" lengthAdjust="spacingAndGlyphs" >f</text>
<text x="50.15" y="0.00" font-size="20.80" textLength="7.94" lengthAdjust="spacingAndGlyphs" >t</text>
<text x="64.17" y="0.00" font-size="20.80" textLength="7.90" lengthAdjust="spacingAndGlyphs" >(</text>
<text x="72.07" y="0.00" font-size="20.80" textLength="12.85" lengthAdjust="spacingAndGlyphs" >p</text>
<text x="84.93" y="0.00" font-size="20.80" textLength="19.73" lengthAdjust="spacingAndGlyphs" >m</text>
<text x="104.65" y="0.00" font-size="20.80" textLength="7.90" lengthAdjust="spacingAndGlyphs" >)</text>
</g>
</g>
<rect x="332.6" y="575.9" width="361.80" height="153.00" rx="3.5" fill="#fff" fill-opacity="0.8" stroke="#cccccc" stroke-opacity="0.8" stroke-width="1"/>
<line x1="337.6" y1="592.00" x2="379.8" y2="592.00" stroke="#1a78bc" stroke-width="4.8"/>
<g font-family='"Liberation Sans", sans-serif' fill="#1a1a1a">
<text x="391.90" y="596.50" font-size="17.60" textLength="10.76" lengthAdjust="spacingAndGlyphs" >F</text>
<text x="402.66" y="596.50" font-size="17.60" textLength="12.83" lengthAdjust="spacingAndGlyphs" >B</text>
<text x="415.49" y="596.50" font-size="17.60" textLength="14.49" lengthAdjust="spacingAndGlyphs" >G</text>
<text x="429.94" y="596.50" font-size="17.60" textLength="11.30" lengthAdjust="spacingAndGlyphs" >1</text>
<text x="447.49" y="596.50" font-size="17.60" textLength="7.30" lengthAdjust="spacingAndGlyphs" >(</text>
<text x="454.78" y="596.50" font-size="17.60" textLength="12.99" lengthAdjust="spacingAndGlyphs" >R</text>
<text x="468.34" y="594.60" font-size="14.78" textLength="6.37" lengthAdjust="spacingAndGlyphs" >²</text>
<text x="482.47" y="596.50" font-size="17.60" textLength="13.16" lengthAdjust="spacingAndGlyphs" >=</text>
<text x="503.13" y="596.50" font-size="17.60" textLength="11.30" lengthAdjust="spacingAndGlyphs" >0</text>
<text x="514.73" y="596.50" font-size="17.60" textLength="5.94" lengthAdjust="spacingAndGlyphs" >.</text>
<text x="520.97" y="596.50" font-size="17.60" textLength="11.30" lengthAdjust="spacingAndGlyphs" >9</text>
<text x="532.87" y="596.50" font-size="17.60" textLength="11.30" lengthAdjust="spacingAndGlyphs" >9</text>
<text x="544.77" y="596.50" font-size="17.60" textLength="11.30" lengthAdjust="spacingAndGlyphs" >5</text>
<text x="556.37" y="596.50" font-size="17.60" textLength="7.30" lengthAdjust="spacingAndGlyphs" >)</text>
<text x="567.00" y="596.50" font-size="17.6" textLength="12.60" lengthAdjust="spacingAndGlyphs" font-style="italic">S</text>
<text x="579.20" y="599.40" font-size="14.2" textLength="8.00" lengthAdjust="spacingAndGlyphs" font-style="italic">v</text>
<text x="591.10" y="596.50" font-size="17.6" textLength="13.60" lengthAdjust="spacingAndGlyphs" >=</text>
<text x="610.40" y="596.50" font-size="17.60" textLength="11.30" lengthAdjust="spacingAndGlyphs" >1</text>
<text x="622.30" y="596.50" font-size="17.60" textLength="11.30" lengthAdjust="spacingAndGlyphs" >8</text>
<text x="634.19" y="596.50" font-size="17.60" textLength="11.30" lengthAdjust="spacingAndGlyphs" >4</text>
<text x="646.09" y="596.50" font-size="17.60" textLength="11.30" lengthAdjust="spacingAndGlyphs" >7</text>
<text x="657.69" y="596.50" font-size="17.60" textLength="5.94" lengthAdjust="spacingAndGlyphs" >.</text>
<text x="663.93" y="596.50" font-size="17.60" textLength="11.30" lengthAdjust="spacingAndGlyphs" >8</text>
<text x="675.83" y="596.50" font-size="17.60" textLength="11.30" lengthAdjust="spacingAndGlyphs" >8</text>
</g>
<line x1="337.6" y1="621.60" x2="379.8" y2="621.60" stroke="#008000" stroke-width="4.8"/>
<g font-family='"Liberation Sans", sans-serif' fill="#1a1a1a">
<text x="391.90" y="626.10" font-size="17.60" textLength="10.76" lengthAdjust="spacingAndGlyphs" >F</text>
<text x="402.66" y="626.10" font-size="17.60" textLength="12.83" lengthAdjust="spacingAndGlyphs" >B</text>
<text x="415.49" y="626.10" font-size="17.60" textLength="14.49" lengthAdjust="spacingAndGlyphs" >G</text>
<text x="429.94" y="626.10" font-size="17.60" textLength="11.30" lengthAdjust="spacingAndGlyphs" >2</text>
<text x="447.49" y="626.10" font-size="17.60" textLength="7.30" lengthAdjust="spacingAndGlyphs" >(</text>
<text x="454.78" y="626.10" font-size="17.60" textLength="12.99" lengthAdjust="spacingAndGlyphs" >R</text>
<text x="468.34" y="624.20" font-size="14.78" textLength="6.37" lengthAdjust="spacingAndGlyphs" >²</text>
<text x="482.47" y="626.10" font-size="17.60" textLength="13.16" lengthAdjust="spacingAndGlyphs" >=</text>
<text x="503.13" y="626.10" font-size="17.60" textLength="11.30" lengthAdjust="spacingAndGlyphs" >0</text>
<text x="514.73" y="626.10" font-size="17.60" textLength="5.94" lengthAdjust="spacingAndGlyphs" >.</text>
<text x="520.97" y="626.10" font-size="17.60" textLength="11.30" lengthAdjust="spacingAndGlyphs" >9</text>
<text x="532.87" y="626.10" font-size="17.60" textLength="11.30" lengthAdjust="spacingAndGlyphs" >9</text>
<text x="544.77" y="626.10" font-size="17.60" textLength="11.30" lengthAdjust="spacingAndGlyphs" >8</text>
<text x="556.37" y="626.10" font-size="17.60" textLength="7.30" lengthAdjust="spacingAndGlyphs" >)</text>
<text x="567.00" y="626.10" font-size="17.6" textLength="12.60" lengthAdjust="spacingAndGlyphs" font-style="italic">S</text>
<text x="579.20" y="629.00" font-size="14.2" textLength="8.00" lengthAdjust="spacingAndGlyphs" font-style="italic">v</text>
<text x="591.10" y="626.10" font-size="17.6" textLength="13.60" lengthAdjust="spacingAndGlyphs" >=</text>
<text x="610.40" y="626.10" font-size="17.60" textLength="11.30" lengthAdjust="spacingAndGlyphs" >1</text>
<text x="622.30" y="626.10" font-size="17.60" textLength="11.30" lengthAdjust="spacingAndGlyphs" >0</text>
<text x="634.19" y="626.10" font-size="17.60" textLength="11.30" lengthAdjust="spacingAndGlyphs" >5</text>
<text x="645.79" y="626.10" font-size="17.60" textLength="5.94" lengthAdjust="spacingAndGlyphs" >.</text>
<text x="652.03" y="626.10" font-size="17.60" textLength="11.30" lengthAdjust="spacingAndGlyphs" >5</text>
<text x="663.93" y="626.10" font-size="17.60" textLength="11.30" lengthAdjust="spacingAndGlyphs" >6</text>
</g>
<line x1="337.6" y1="651.50" x2="379.8" y2="651.50" stroke="#ff0000" stroke-width="4.8"/>
<g font-family='"Liberation Sans", sans-serif' fill="#1a1a1a">
<text x="391.90" y="656.00" font-size="17.60" textLength="10.76" lengthAdjust="spacingAndGlyphs" >F</text>
<text x="402.66" y="656.00" font-size="17.60" textLength="12.83" lengthAdjust="spacingAndGlyphs" >B</text>
<text x="415.49" y="656.00" font-size="17.60" textLength="14.49" lengthAdjust="spacingAndGlyphs" >G</text>
<text x="429.94" y="656.00" font-size="17.60" textLength="11.30" lengthAdjust="spacingAndGlyphs" >3</text>
<text x="447.49" y="656.00" font-size="17.60" textLength="7.30" lengthAdjust="spacingAndGlyphs" >(</text>
<text x="454.78" y="656.00" font-size="17.60" textLength="12.99" lengthAdjust="spacingAndGlyphs" >R</text>
<text x="468.34" y="654.10" font-size="14.78" textLength="6.37" lengthAdjust="spacingAndGlyphs" >²</text>
<text x="482.47" y="656.00" font-size="17.60" textLength="13.16" lengthAdjust="spacingAndGlyphs" >=</text>
<text x="503.13" y="656.00" font-size="17.60" textLength="11.30" lengthAdjust="spacingAndGlyphs" >0</text>
<text x="514.73" y="656.00" font-size="17.60" textLength="5.94" lengthAdjust="spacingAndGlyphs" >.</text>
<text x="520.97" y="656.00" font-size="17.60" textLength="11.30" lengthAdjust="spacingAndGlyphs" >9</text>
<text x="532.87" y="656.00" font-size="17.60" textLength="11.30" lengthAdjust="spacingAndGlyphs" >9</text>
<text x="544.77" y="656.00" font-size="17.60" textLength="11.30" lengthAdjust="spacingAndGlyphs" >8</text>
<text x="556.37" y="656.00" font-size="17.60" textLength="7.30" lengthAdjust="spacingAndGlyphs" >)</text>
<text x="567.00" y="656.00" font-size="17.6" textLength="12.60" lengthAdjust="spacingAndGlyphs" font-style="italic">S</text>
<text x="579.20" y="658.90" font-size="14.2" textLength="8.00" lengthAdjust="spacingAndGlyphs" font-style="italic">v</text>
<text x="591.10" y="656.00" font-size="17.6" textLength="13.60" lengthAdjust="spacingAndGlyphs" >=</text>
<text x="610.40" y="656.00" font-size="17.60" textLength="11.30" lengthAdjust="spacingAndGlyphs" >3</text>
<text x="622.30" y="656.00" font-size="17.60" textLength="11.30" lengthAdjust="spacingAndGlyphs" >0</text>
<text x="633.90" y="656.00" font-size="17.60" textLength="5.94" lengthAdjust="spacingAndGlyphs" >.</text>
<text x="640.14" y="656.00" font-size="17.60" textLength="11.30" lengthAdjust="spacingAndGlyphs" >1</text>
<text x="652.03" y="656.00" font-size="17.60" textLength="11.30" lengthAdjust="spacingAndGlyphs" >7</text>
</g>
<line x1="337.6" y1="681.50" x2="379.8" y2="681.50" stroke="#bfbf00" stroke-width="4.8"/>
<g font-family='"Liberation Sans", sans-serif' fill="#1a1a1a">
<text x="391.90" y="686.00" font-size="17.60" textLength="10.76" lengthAdjust="spacingAndGlyphs" >F</text>
<text x="402.66" y="686.00" font-size="17.60" textLength="12.83" lengthAdjust="spacingAndGlyphs" >B</text>
<text x="415.49" y="686.00" font-size="17.60" textLength="14.49" lengthAdjust="spacingAndGlyphs" >G</text>
<text x="429.94" y="686.00" font-size="17.60" textLength="11.30" lengthAdjust="spacingAndGlyphs" >4</text>
<text x="447.49" y="686.00" font-size="17.60" textLength="7.30" lengthAdjust="spacingAndGlyphs" >(</text>
<text x="454.78" y="686.00" font-size="17.60" textLength="12.99" lengthAdjust="spacingAndGlyphs" >R</text>
<text x="468.34" y="684.10" font-size="14.78" textLength="6.37" lengthAdjust="spacingAndGlyphs" >²</text>
<text x="482.47" y="686.00" font-size="17.60" textLength="13.16" lengthAdjust="spacingAndGlyphs" >=</text>
<text x="503.13" y="686.00" font-size="17.60" textLength="11.30" lengthAdjust="spacingAndGlyphs" >0</text>
<text x="514.73" y="686.00" font-size="17.60" textLength="5.94" lengthAdjust="spacingAndGlyphs" >.</text>
<text x="520.97" y="686.00" font-size="17.60" textLength="11.30" lengthAdjust="spacingAndGlyphs" >9</text>
<text x="532.87" y="686.00" font-size="17.60" textLength="11.30" lengthAdjust="spacingAndGlyphs" >9</text>
<text x="544.77" y="686.00" font-size="17.60" textLength="11.30" lengthAdjust="spacingAndGlyphs" >7</text>
<text x="556.37" y="686.00" font-size="17.60" textLength="7.30" lengthAdjust="spacingAndGlyphs" >)</text>
<text x="567.00" y="686.00" font-size="17.6" textLength="12.60" lengthAdjust="spacingAndGlyphs" font-style="italic">S</text>
<text x="579.20" y="688.90" font-size="14.2" textLength="8.00" lengthAdjust="spacingAndGlyphs" font-style="italic">v</text>
<text x="591.10" y="686.00" font-size="17.6" textLength="13.60" lengthAdjust="spacingAndGlyphs" >=</text>
<text x="610.40" y="686.00" font-size="17.60" textLength="11.30" lengthAdjust="spacingAndGlyphs" >9</text>
<text x="622.00" y="686.00" font-size="17.60" textLength="5.94" lengthAdjust="spacingAndGlyphs" >.</text>
<text x="628.24" y="686.00" font-size="17.60" textLength="11.30" lengthAdjust="spacingAndGlyphs" >0</text>
<text x="640.14" y="686.00" font-size="17.60" textLength="11.30" lengthAdjust="spacingAndGlyphs" >3</text>
</g>
<line x1="337.6" y1="711.30" x2="379.8" y2="711.30" stroke="#d000d0" stroke-width="4.8"/>
<g font-family='"Liberation Sans", sans-serif' fill="#1a1a1a">
<text x="391.90" y="715.80" font-size="17.60" textLength="10.76" lengthAdjust="spacingAndGlyphs" >F</text>
<text x="402.66" y="715.80" font-size="17.60" textLength="12.83" lengthAdjust="spacingAndGlyphs" >B</text>
<text x="415.49" y="715.80" font-size="17.60" textLength="14.49" lengthAdjust="spacingAndGlyphs" >G</text>
<text x="429.94" y="715.80" font-size="17.60" textLength="11.30" lengthAdjust="spacingAndGlyphs" >5</text>
<text x="447.49" y="715.80" font-size="17.60" textLength="7.30" lengthAdjust="spacingAndGlyphs" >(</text>
<text x="454.78" y="715.80" font-size="17.60" textLength="12.99" lengthAdjust="spacingAndGlyphs" >R</text>
<text x="468.34" y="713.90" font-size="14.78" textLength="6.37" lengthAdjust="spacingAndGlyphs" >²</text>
<text x="482.47" y="715.80" font-size="17.60" textLength="13.16" lengthAdjust="spacingAndGlyphs" >=</text>
<text x="503.13" y="715.80" font-size="17.60" textLength="11.30" lengthAdjust="spacingAndGlyphs" >0</text>
<text x="514.73" y="715.80" font-size="17.60" textLength="5.94" lengthAdjust="spacingAndGlyphs" >.</text>
<text x="520.97" y="715.80" font-size="17.60" textLength="11.30" lengthAdjust="spacingAndGlyphs" >9</text>
<text x="532.87" y="715.80" font-size="17.60" textLength="11.30" lengthAdjust="spacingAndGlyphs" >9</text>
<text x="544.77" y="715.80" font-size="17.60" textLength="11.30" lengthAdjust="spacingAndGlyphs" >8</text>
<text x="556.37" y="715.80" font-size="17.60" textLength="7.30" lengthAdjust="spacingAndGlyphs" >)</text>
<text x="567.00" y="715.80" font-size="17.6" textLength="12.60" lengthAdjust="spacingAndGlyphs" font-style="italic">S</text>
<text x="579.20" y="718.70" font-size="14.2" textLength="8.00" lengthAdjust="spacingAndGlyphs" font-style="italic">v</text>
<text x="591.10" y="715.80" font-size="17.6" textLength="13.60" lengthAdjust="spacingAndGlyphs" >=</text>
<text x="610.40" y="715.80" font-size="17.60" textLength="11.30" lengthAdjust="spacingAndGlyphs" >2</text>
<text x="622.00" y="715.80" font-size="17.60" textLength="5.94" lengthAdjust="spacingAndGlyphs" >.</text>
<text x="628.24" y="715.80" font-size="17.60" textLength="11.30" lengthAdjust="spacingAndGlyphs" >2</text>
<text x="640.14" y="715.80" font-size="17.60" textLength="11.30" lengthAdjust="spacingAndGlyphs" >4</text>
</g>
<g font-family='"Liberation Serif", serif' fill="#000" font-size="24.4" class="ns">
<text x="385.4" y="559.4" text-anchor="middle">(<tspan font-weight="bold">a</tspan>)</text>
<text x="385.1" y="1089.8" text-anchor="middle">(<tspan font-weight="bold">b</tspan>)</text>
</g>
</svg></body></html>
